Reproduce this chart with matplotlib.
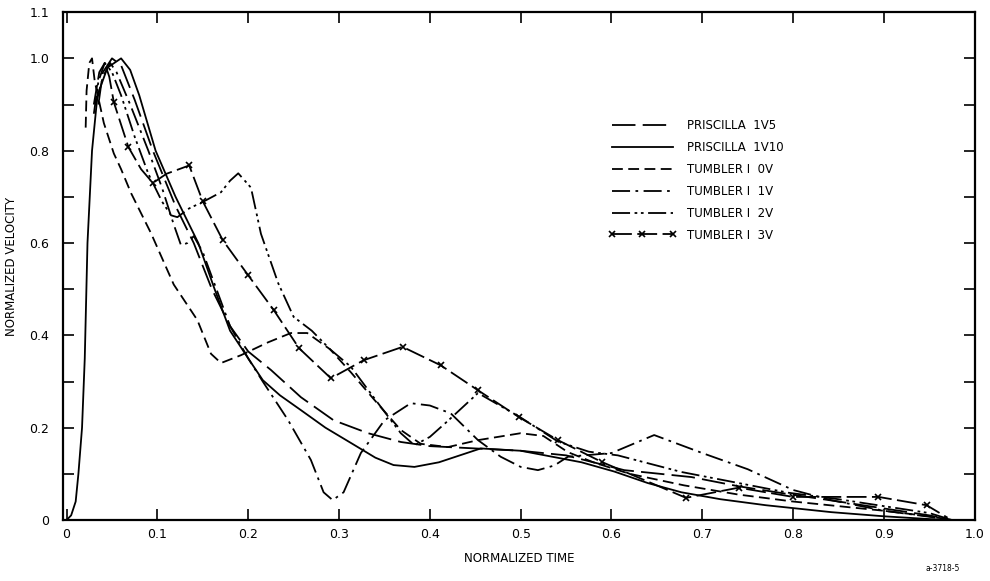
import matplotlib
matplotlib.use("Agg")
from matplotlib import pyplot as plt
from matplotlib.ticker import MultipleLocator

# Data (normalized time, normalized velocity)
p15_t = [0.035, 0.04, 0.05, 0.06, 0.075, 0.095, 0.12, 0.14, 0.16, 0.18, 0.2, 0.225, 0.258, 0.294,
         0.332, 0.368, 0.4, 0.45, 0.5, 0.55, 0.58, 0.614, 0.688, 0.74, 0.795, 0.85, 0.9, 0.95, 0.975]
p15_v = [0.9, 0.97, 1.0, 0.985, 0.91, 0.8, 0.68, 0.6, 0.5, 0.42, 0.365, 0.325, 0.266, 0.216,
         0.188, 0.169, 0.16, 0.155, 0.15, 0.14, 0.125, 0.108, 0.093, 0.073, 0.056, 0.04, 0.025, 0.01, 0.0]

p110_t = [0.0, 0.005, 0.01, 0.013, 0.017, 0.02, 0.023, 0.028, 0.034, 0.045, 0.06, 0.07, 0.08, 0.098,
          0.12, 0.145, 0.163, 0.18, 0.2, 0.216, 0.235, 0.258, 0.285, 0.313, 0.34, 0.36, 0.383, 0.41,
          0.456, 0.5, 0.567, 0.603, 0.64, 0.677, 0.72, 0.77, 0.842, 0.9, 0.95, 0.975]
p110_v = [0.0, 0.01, 0.04, 0.1, 0.2, 0.35, 0.6, 0.8, 0.92, 0.98, 1.0, 0.975, 0.92, 0.8,
          0.7, 0.6, 0.5, 0.41, 0.35, 0.303, 0.27, 0.238, 0.2, 0.167, 0.135, 0.119, 0.115, 0.125,
          0.155, 0.15, 0.125, 0.105, 0.08, 0.06, 0.045, 0.032, 0.017, 0.008, 0.002, 0.0]

t0_t = [0.021, 0.022, 0.025, 0.028, 0.031, 0.041, 0.052, 0.06, 0.071, 0.093, 0.118, 0.144, 0.159,
        0.17, 0.192, 0.222, 0.247, 0.265, 0.29, 0.313, 0.339, 0.368, 0.39, 0.42, 0.453, 0.5, 0.525,
        0.552, 0.58, 0.62, 0.68, 0.74, 0.8, 0.85, 0.9, 0.95, 0.975]
t0_v = [0.85, 0.93, 0.99, 1.0, 0.95, 0.86, 0.794, 0.76, 0.708, 0.621, 0.51, 0.433, 0.36,
        0.34, 0.357, 0.385, 0.405, 0.405, 0.37, 0.32, 0.26, 0.195, 0.165, 0.158, 0.173, 0.188, 0.182,
        0.147, 0.125, 0.1, 0.075, 0.055, 0.04, 0.03, 0.02, 0.008, 0.0]

t1_t = [0.032, 0.04, 0.048, 0.055, 0.07, 0.09, 0.105, 0.118, 0.126, 0.133, 0.14, 0.15, 0.165, 0.18,
        0.2, 0.216, 0.244, 0.269, 0.283, 0.293, 0.305, 0.324, 0.35, 0.379, 0.4, 0.423, 0.453, 0.478,
        0.5, 0.519, 0.537, 0.552, 0.6, 0.647, 0.7, 0.75, 0.8, 0.842, 0.9, 0.95, 0.975]
t1_v = [0.9, 0.96, 0.99, 0.97, 0.9, 0.8, 0.72, 0.64, 0.595, 0.6, 0.615, 0.58, 0.5, 0.42,
        0.35, 0.3, 0.216, 0.13, 0.06, 0.043, 0.06, 0.145, 0.216, 0.253, 0.248, 0.231, 0.173, 0.137,
        0.115, 0.108, 0.118, 0.137, 0.145, 0.184, 0.145, 0.11, 0.065, 0.043, 0.02, 0.007, 0.0]

t2_t = [0.03, 0.035, 0.042, 0.05, 0.06, 0.075, 0.09, 0.105, 0.115, 0.122, 0.135, 0.151, 0.17, 0.18,
        0.189, 0.203, 0.214, 0.233, 0.25, 0.27, 0.29, 0.313, 0.346, 0.368, 0.383, 0.4, 0.42, 0.453,
        0.5, 0.541, 0.575, 0.607, 0.677, 0.74, 0.795, 0.85, 0.9, 0.95, 0.975]
t2_v = [0.88, 0.95, 0.99, 0.97, 0.92, 0.83, 0.75, 0.69, 0.66, 0.656, 0.675, 0.69, 0.71, 0.735,
        0.751, 0.72, 0.62, 0.513, 0.44, 0.41, 0.37, 0.332, 0.245, 0.188, 0.162, 0.18, 0.215, 0.275,
        0.222, 0.17, 0.148, 0.14, 0.104, 0.08, 0.059, 0.045, 0.03, 0.015, 0.0]

t3_t = [0.03, 0.036, 0.042, 0.047, 0.052, 0.068, 0.082, 0.095, 0.11, 0.135, 0.15, 0.172, 0.2,
        0.228, 0.256, 0.291, 0.327, 0.37, 0.412, 0.453, 0.498, 0.541, 0.589, 0.682, 0.74, 0.8,
        0.894, 0.947, 0.97]
t3_v = [0.9, 0.97, 0.99, 0.96, 0.905, 0.808, 0.76, 0.73, 0.75, 0.768, 0.69, 0.606, 0.53,
        0.455, 0.372, 0.307, 0.346, 0.375, 0.335, 0.281, 0.223, 0.173, 0.126, 0.048, 0.07, 0.05,
        0.05, 0.032, 0.005]
t3_marks = [4, 5, 7, 9, 10, 11, 12, 13, 14, 15, 16, 17, 18, 19, 20, 21, 22, 23, 24, 25, 26, 27]

labels = ["PRISCILLA  1V5", "PRISCILLA  1V10", "TUMBLER I  0V",
          "TUMBLER I  1V", "TUMBLER I  2V", "TUMBLER I  3V"]

fig = plt.figure(figsize=(9.9, 5.81), dpi=100)
ax = fig.add_axes([0.0636, 0.105, 0.921, 0.874])

lw = 1.3
ax.plot(p15_t, p15_v, color="black", lw=lw, dashes=(13, 4), label=labels[0])
ax.plot(p110_t, p110_v, color="black", lw=lw, label=labels[1])
ax.plot(t0_t, t0_v, color="black", lw=lw, dashes=(6, 3), label=labels[2])
ax.plot(t1_t, t1_v, color="black", lw=lw, dashes=(10, 3, 1.5, 3), label=labels[3])
ax.plot(t2_t, t2_v, color="black", lw=lw, dashes=(10, 2.5, 1.5, 2, 1.5, 2.5), label=labels[4])
ax.plot(t3_t, t3_v, color="black", lw=lw, dashes=(11, 3), marker="x", ms=5, mew=1.2,
        markevery=t3_marks, label=labels[5])

ax.set_xlim(-0.004, 1.0)
ax.set_ylim(0, 1.1)

ax.set_xticks([0, 0.1, 0.2, 0.3, 0.4, 0.5, 0.6, 0.7, 0.8, 0.9, 1.0])
ax.set_xticklabels(["0", "0.1", "0.2", "0.3", "0.4", "0.5", "0.6", "0.7", "0.8", "0.9", "1.0"])
ax.set_yticks([0, 0.2, 0.4, 0.6, 0.8, 1.0, 1.1])
ax.set_yticklabels(["0", "0.2", "0.4", "0.6", "0.8", "1.0", "1.1"])
ax.yaxis.set_minor_locator(MultipleLocator(0.1))

ax.tick_params(which="both", direction="in", top=True, right=True, length=8, width=1.2,
               labelsize=9, pad=6, colors="black")
ax.tick_params(axis="y", which="major", pad=10)
for s in ax.spines.values():
    s.set_linewidth(1.6)

ax.set_xlabel("NORMALIZED TIME", fontsize=8.5, labelpad=8)
ax.set_ylabel("NORMALIZED VELOCITY", fontsize=8.5, labelpad=8)

leg = ax.legend(loc="upper left", bbox_to_anchor=(0.59, 0.81), frameon=False, fontsize=8.5,
                handlelength=5.2, handletextpad=1.2, labelspacing=0.75, numpoints=1,
                markerscale=0.9)
for h in leg.legend_handles:
    h.set_markevery(None)

fig.text(0.97, 0.013, "a-3718-5", fontsize=5.5, ha="right", va="bottom")

fig.savefig("out.png", dpi=100, facecolor="white")
